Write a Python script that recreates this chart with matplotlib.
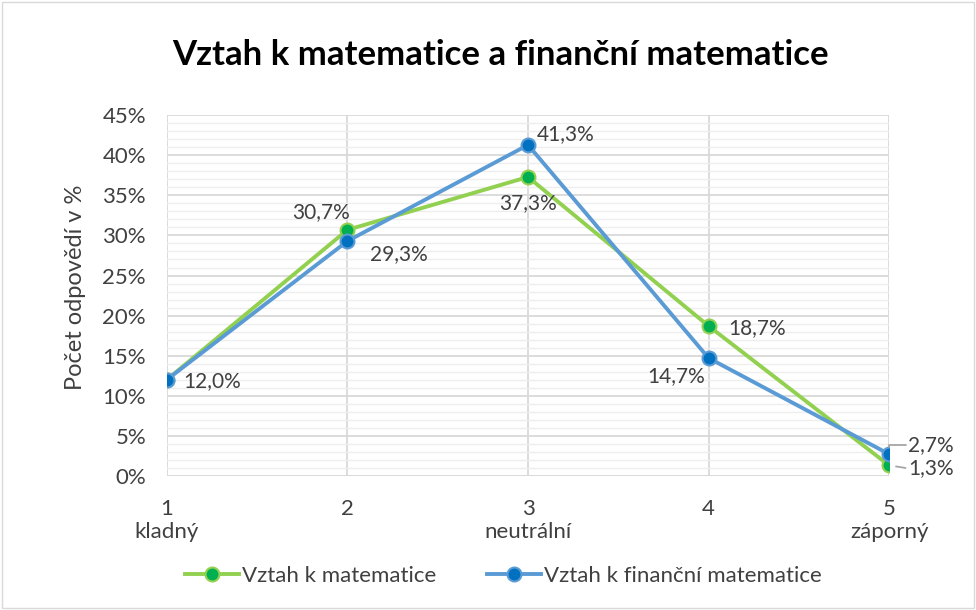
import numpy as np
import matplotlib.pyplot as plt
from matplotlib.ticker import MultipleLocator, FuncFormatter

plt.rcParams['font.family'] = ['Lato', 'DejaVu Sans']

x = [1, 2, 3, 4, 5]
xlabels = ['1\nkladný', '2', '3\nneutrální', '4', '5\nzáporný']
mat = [12.0, 30.7, 37.3, 18.7, 1.3]
fin = [12.0, 29.3, 41.3, 14.7, 2.7]
names = ['Vztah k matematice', 'Vztah k finanční matematice']

fig = plt.figure(figsize=(9.76, 6.1), dpi=100)
ax = fig.add_axes([0.171, 0.220, 0.740, 0.591])

ax.plot(x, mat, '-o', color='#92D050', lw=2.8, ms=10, mfc='#00B050', mec='#92D050', mew=1.5,
        label=names[0], zorder=3)
ax.plot(x, fin, '-o', color='#5B9BD5', lw=2.8, ms=10, mfc='#0070C0', mec='#5B9BD5', mew=1.5,
        label=names[1], zorder=4)

ax.set_xlim(1, 5)
ax.set_ylim(0, 45)
ax.yaxis.set_major_locator(MultipleLocator(5))
ax.yaxis.set_minor_locator(MultipleLocator(1))
ax.yaxis.set_major_formatter(FuncFormatter(lambda v, p: '%d%%' % v))
ax.set_xticks(x)
ax.set_xticklabels(xlabels, fontsize=16, color='#404040', va='top', linespacing=1.15)
ax.tick_params(axis='y', labelsize=16, labelcolor='#404040', length=0, which='both', pad=15)
ax.tick_params(axis='x', length=0, pad=17)
ax.grid(which='major', color='#D9D9D9', lw=1.3)
ax.grid(which='minor', axis='y', color='#EEEEEE', lw=1.0)
ax.set_axisbelow(True)
for s in ax.spines.values():
    s.set_visible(False)
ax.axhline(0, color='#D9D9D9', lw=1.3, zorder=1)

ax.set_ylabel('Počet odpovědí v %', fontsize=17, color='#404040')
ax.yaxis.label.set_va('center')
ax.yaxis.set_label_coords(-0.127, 0.524)

def fmt(v):
    return ('%.1f%%' % v).replace('.', ',')

lab = dict(fontsize=15, color='#404040', zorder=5, ha='center', va='center',
           textcoords='offset pixels')
# green series labels
ax.annotate(fmt(mat[0]), (1, mat[0]), xytext=(45, -1), **lab)
ax.annotate(fmt(mat[1]), (2, mat[1]), xytext=(-26, 18), **lab)
ax.annotate(fmt(mat[2]), (3, mat[2]), xytext=(0, -26), **lab)
ax.annotate(fmt(mat[3]), (4, mat[3]), xytext=(49, -2), **lab)
# blue series labels
ax.annotate(fmt(fin[1]), (2, fin[1]), xytext=(51, -13), **lab)
ax.annotate(fmt(fin[2]), (3, fin[2]), xytext=(38, 11), **lab)
ax.annotate(fmt(fin[3]), (4, fin[3]), xytext=(-32, -18), **lab)
# end labels with leader lines
ax.annotate(fmt(fin[4]), (5, fin[4]), xytext=(42, 9), annotation_clip=False,
            arrowprops=dict(arrowstyle='-', color='#A6A6A6', lw=1.3,
                            connectionstyle='angle,angleA=0,angleB=90,rad=0',
                            shrinkA=0, shrinkB=5, relpos=(0, 0.5)), **lab)
ax.annotate(fmt(mat[4]), (5, mat[4]), xytext=(42, -3), annotation_clip=False,
            arrowprops=dict(arrowstyle='-', color='#A6A6A6', lw=1.3,
                            shrinkA=0, shrinkB=5, relpos=(0, 0.5)), **lab)

fig.text(0.513, 0.91, 'Vztah k matematice a finanční matematice', ha='center', va='center',
         fontsize=25, fontweight='bold', color='black')

leg = fig.legend(loc='center', bbox_to_anchor=(0.516, 0.056), ncol=2, frameon=False,
                 fontsize=16, handlelength=2.4, columnspacing=2.3, handletextpad=0.15)
for t in leg.get_texts():
    t.set_color('#404040')

fig.patches.append(plt.Rectangle((0.002, 0.003), 0.996, 0.994, transform=fig.transFigure,
                                 fill=False, edgecolor='#D9D9D9', lw=1))

fig.savefig('out.png', dpi=100)
